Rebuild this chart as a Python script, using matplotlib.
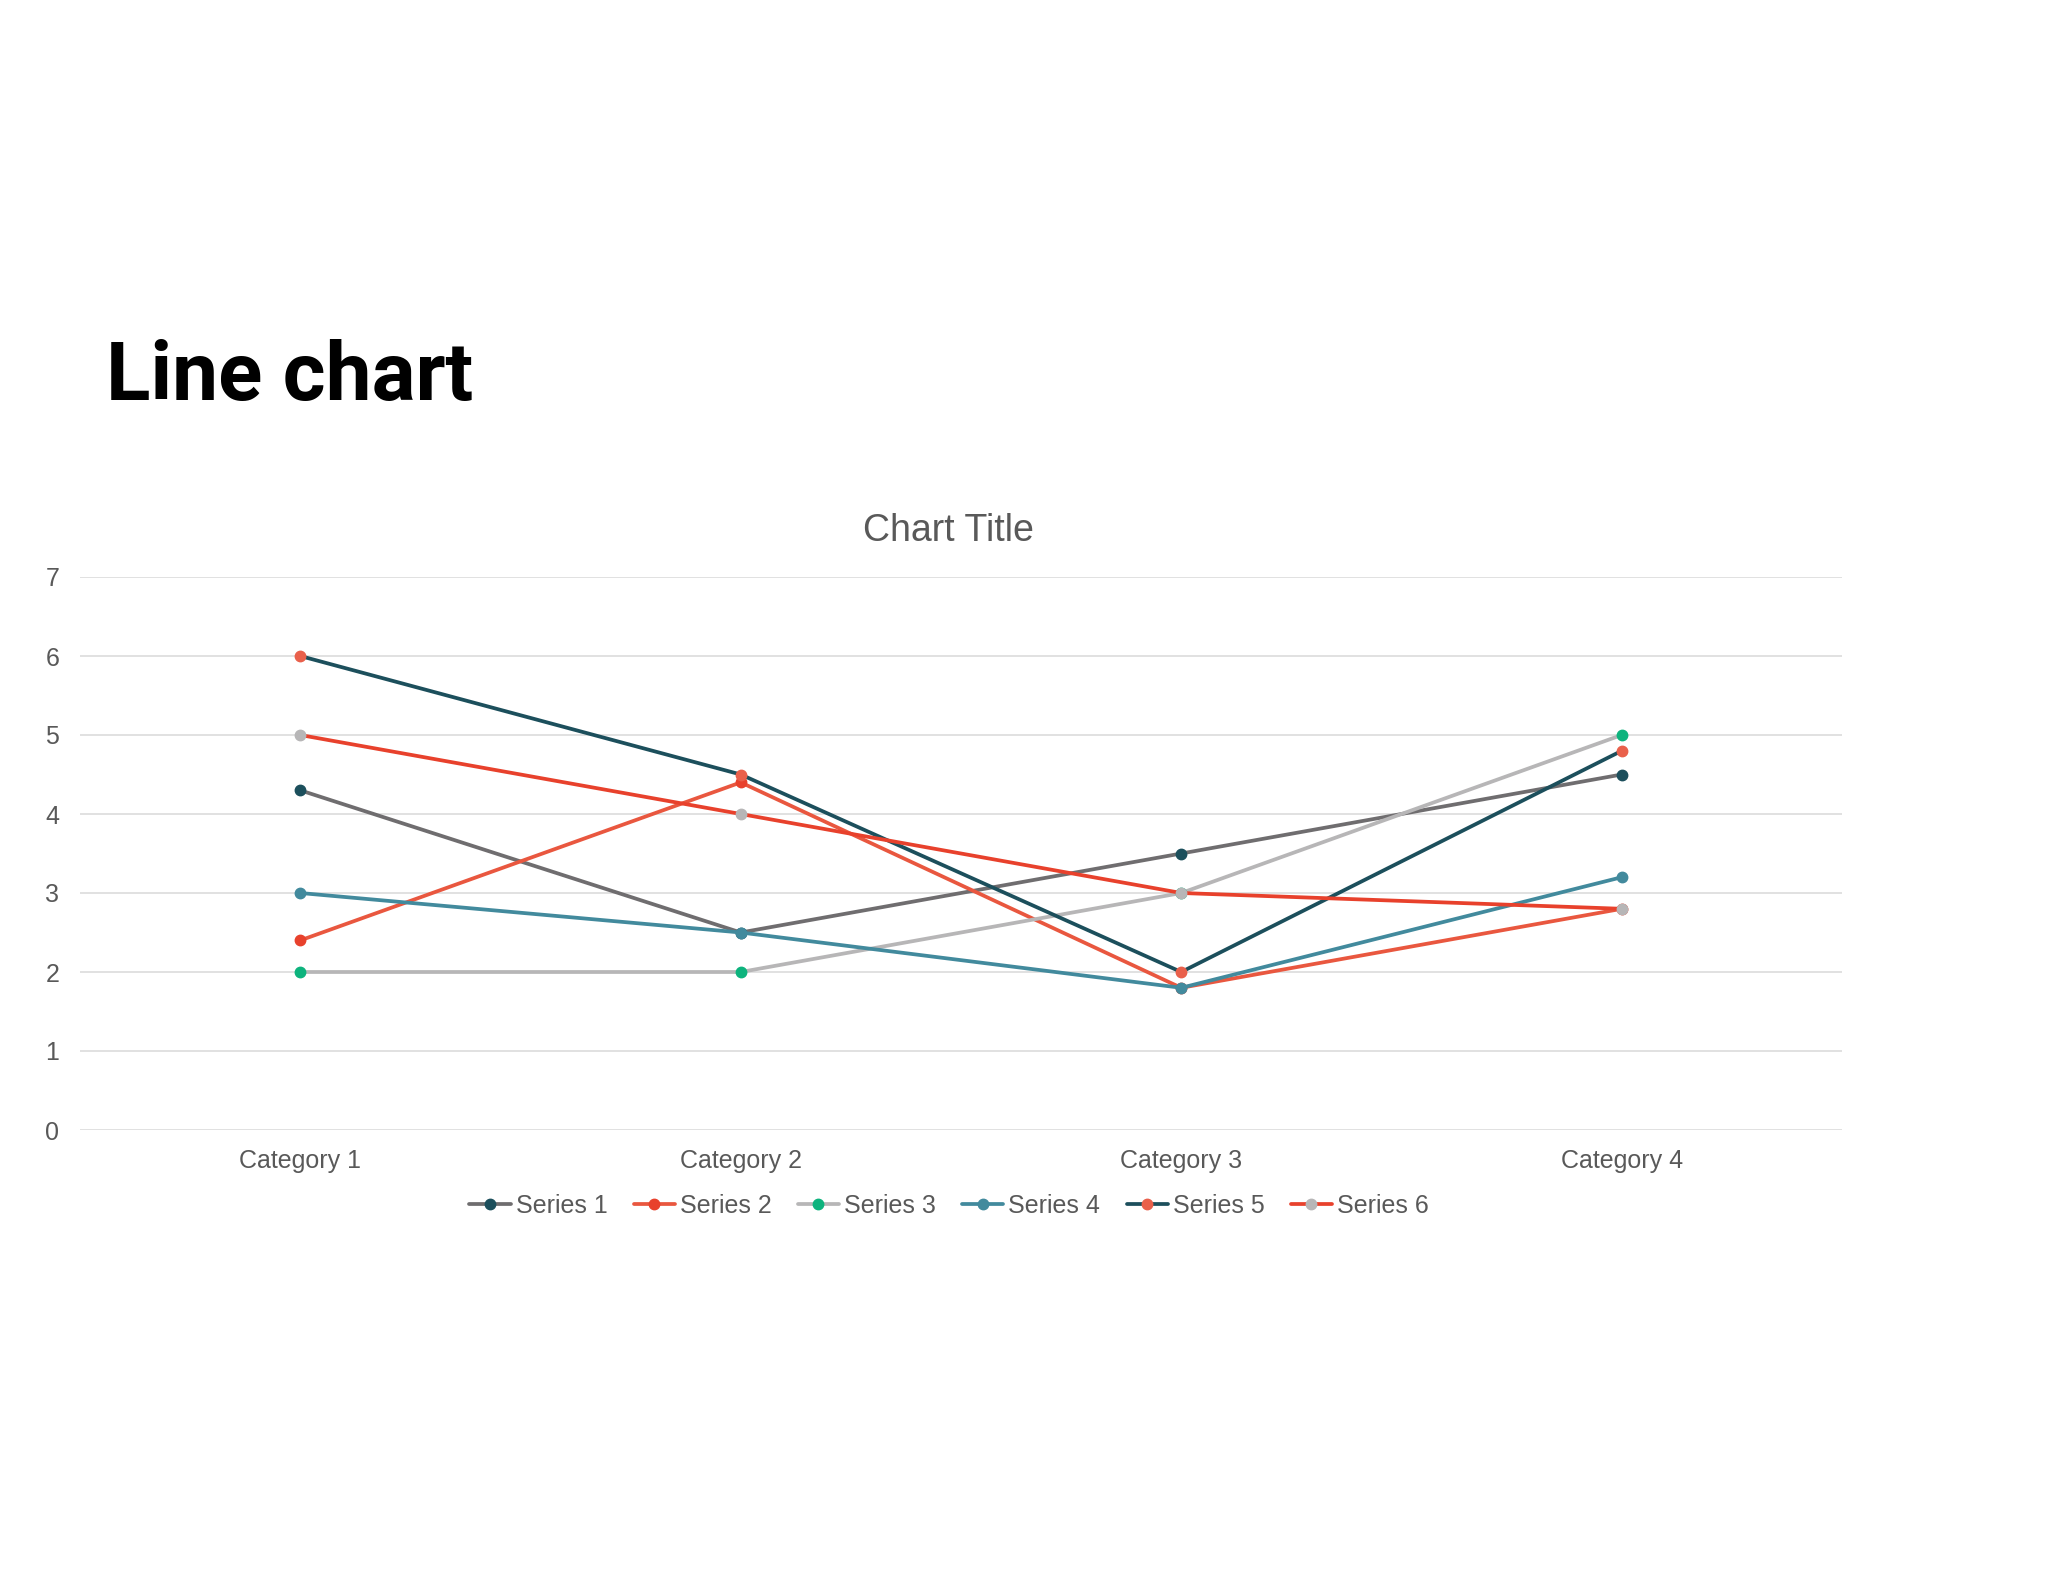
import matplotlib
matplotlib.use("Agg")
import matplotlib.pyplot as plt

# data
categories = ["Category 1", "Category 2", "Category 3", "Category 4"]
series_names = ["Series 1", "Series 2", "Series 3", "Series 4", "Series 5", "Series 6"]
s1 = [4.3, 2.5, 3.5, 4.5]
s2 = [2.4, 4.4, 1.8, 2.8]
s3 = [2.0, 2.0, 3.0, 5.0]
s4 = [3.0, 2.5, 1.8, 3.2]
s5 = [6.0, 4.5, 2.0, 4.8]
s6 = [5.0, 4.0, 3.0, 2.8]
y_ticks = [0, 1, 2, 3, 4, 5, 6, 7]

# line colour / marker colour for each series (they differ in the original)
line_colors = ["#6f6d6f", "#e9573f", "#b7b6b7", "#428a9d", "#1c4f5c", "#e8412c"]
marker_colors = ["#1c4f5c", "#e8412c", "#0db37d", "#428a9d", "#e9604b", "#b7b6b7"]

W, H = 2048, 1582
fig = plt.figure(figsize=(W / 100, H / 100), dpi=100)
fig.patch.set_facecolor("white")

ax = fig.add_axes([80 / W, 1 - 1130 / H, (1842 - 80) / W, (1130 - 577) / H])

x = list(range(len(categories)))
all_series = [s1, s2, s3, s4, s5, s6]
for vals, name, lc, mc in zip(all_series, series_names, line_colors, marker_colors):
    ax.plot(x, vals, color=lc, lw=2.7, marker="o", ms=7.5,
            mfc=mc, mec=mc, label=name, solid_capstyle="round", zorder=3)

ax.set_xlim(-0.5, len(categories) - 0.5)
ax.set_ylim(0, 7)
ax.set_yticks(y_ticks)
ax.set_xticks(x)
ax.set_xticklabels(categories)
ax.grid(axis="y", color="#d9d9d9", lw=1.1, zorder=0)
ax.set_axisbelow(True)
for sp in ax.spines.values():
    sp.set_visible(False)
ax.tick_params(length=0, labelsize=18, labelcolor="#595959")
ax.tick_params(axis="x", pad=14)
ax.tick_params(axis="y", pad=15)
for lab in ax.get_xticklabels() + ax.get_yticklabels():
    lab.set_family("Liberation Sans")

fig.text(948 / W, 1 - 541 / H, "Chart Title", ha="center", va="baseline",
         fontsize=27, color="#595959", family="Liberation Sans")

fig.text(106 / W, 1 - 400 / H, "Line chart", ha="left", va="baseline",
         fontsize=59, fontweight="bold", color="black", family="Roboto")

leg = fig.legend(loc="center", bbox_to_anchor=(949 / W, 1 - 1206 / H), ncol=6,
                 frameon=False, handlelength=1.65, handletextpad=0.2,
                 columnspacing=1.05, numpoints=1,
                 prop={"family": "Liberation Sans", "size": 18})
for t in leg.get_texts():
    t.set_color("#595959")

fig.savefig("out.png", dpi=100, facecolor="white")
